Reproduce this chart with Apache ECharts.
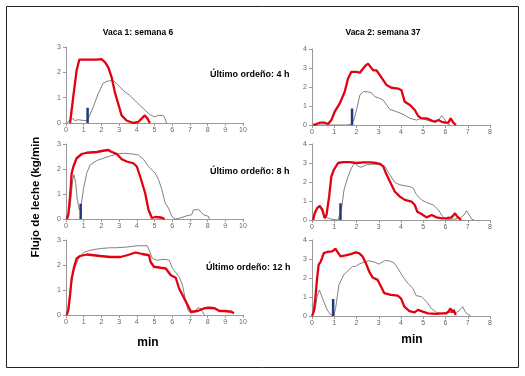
<!DOCTYPE html>
<html><head><meta charset="utf-8">
<script src="https://cdn.jsdelivr.net/npm/echarts@6/dist/echarts.min.js"></script>
<style>html,body{margin:0;padding:0;background:#fff}#c{width:525px;height:376px}</style>
</head><body><div id="c"></div>
<script>
const titles = ["Vaca 1: semana 6", "Vaca 2: semana 37"];
const rowLabels = ["Último ordeño: 4 h", "Último ordeño: 8 h", "Último ordeño: 12 h"];
const yLabel = "Flujo de leche (kg/min";
const xLabel = "min";
const leftXMax = 10, leftYMax = 3, rightXMax = 8, rightYMax = 4;

const redL1 = [[0.23,0],[0.41,1.03],[0.6,2.08],[0.75,2.5],[1.2,2.5],[1.73,2.5],[2.0,2.52],[2.2,2.4],[2.39,2.2],[2.58,1.8],[2.76,1.22],[2.95,0.76],[3.14,0.3],[3.42,0.1],[3.8,0],[4.08,0.04],[4.27,0.17],[4.45,0.3],[4.58,0.2],[4.74,0]];
const grayL1 = [[0.05,0],[0.32,0.2],[0.5,0.1],[0.7,0.13],[0.98,0.1],[1.17,0.1],[1.3,0.24],[1.54,0.63],[1.82,1.16],[2.1,1.58],[2.39,1.66],[2.67,1.68],[2.86,1.55],[3.23,1.29],[3.6,1.09],[3.98,0.83],[4.36,0.57],[4.74,0.33],[5.02,0.24],[5.2,0.3],[5.49,0.3],[5.58,0.2],[5.68,0]];
const blueL1 = [1.22, 0.6];

const redL2 = [[0.04,0],[0.13,0.17],[0.23,0.9],[0.32,1.83],[0.42,2.1],[0.6,2.43],[0.89,2.6],[1.17,2.65],[1.74,2.68],[2.1,2.73],[2.4,2.76],[2.45,2.8],[2.53,2.7],[2.87,2.6],[3.15,2.39],[3.43,2.3],[3.8,2.23],[4.0,2.1],[4.19,1.7],[4.47,1.04],[4.66,0.37],[4.85,0.04],[5.04,0.08],[5.23,0.07],[5.42,0.05],[5.57,0]];
const grayL2 = [[0.1,0],[0.23,0.5],[0.38,1.57],[0.45,1.77],[0.55,1.43],[0.64,0.77],[0.75,0.37],[0.85,0.5],[0.98,1.17],[1.17,1.83],[1.36,2.16],[1.74,2.34],[2.1,2.43],[2.5,2.52],[2.87,2.6],[3.25,2.63],[3.8,2.6],[4.09,2.56],[4.38,2.39],[4.66,2.1],[5.04,1.83],[5.23,1.57],[5.42,1.17],[5.6,0.64],[5.79,0.44],[5.98,0.1],[6.17,0],[6.45,0.04],[6.83,0.13],[7.1,0.17],[7.2,0.37],[7.3,0.44],[7.5,0.37],[7.77,0.17],[8.06,0.1],[8.1,0]];
const blueL2 = [0.83, 0.61];

const redL3 = [[0.04,0],[0.13,0.2],[0.23,0.8],[0.32,1.46],[0.46,1.93],[0.6,2.26],[0.8,2.36],[1.18,2.42],[1.56,2.39],[1.94,2.36],[2.5,2.32],[3.07,2.32],[3.45,2.39],[3.93,2.5],[4.31,2.44],[4.69,2.39],[4.78,2.12],[4.97,1.93],[5.35,1.89],[5.64,1.86],[5.92,1.59],[6.2,1.49],[6.39,1.06],[6.58,0.8],[6.87,0.4],[7.06,0.13],[7.44,0.16],[7.82,0.27],[8.1,0.29],[8.39,0.27],[8.67,0.16],[8.96,0.16],[9.34,0.13],[9.49,0.07]];
const grayL3 = [[0.08,0],[0.23,0.93],[0.42,1.73],[0.7,2.26],[0.99,2.5],[1.37,2.59],[1.94,2.66],[2.5,2.69],[2.6,2.63],[2.88,2.69],[3.45,2.72],[4.02,2.77],[4.59,2.77],[4.74,2.52],[4.88,2.26],[5.16,2.19],[5.54,2.23],[5.83,2.19],[6.02,1.86],[6.39,1.53],[6.58,1.2],[6.77,0.53],[6.91,0.16],[7.06,0.07],[7.29,0.13],[7.44,0.29],[7.59,0.27],[7.72,0.13],[7.82,0]];

const redR1 = [[0.05,0],[0.2,0.05],[0.35,0.12],[0.57,0.12],[0.72,0.05],[0.87,0.26],[1.02,0.7],[1.25,1.14],[1.47,1.75],[1.62,2.45],[1.77,2.8],[2.0,2.8],[2.15,2.75],[2.3,2.97],[2.42,3.14],[2.52,3.23],[2.63,3.06],[2.75,2.88],[2.9,2.88],[3.05,2.62],[3.2,2.36],[3.35,2.1],[3.57,1.96],[3.87,1.92],[4.02,1.83],[4.17,1.22],[4.4,1.05],[4.62,0.79],[4.77,0.47],[4.92,0.35],[5.15,0.35],[5.38,0.23],[5.53,0.17],[5.68,0.26],[5.83,0.17],[5.98,0.12],[6.13,0.12],[6.23,0.35],[6.35,0.12],[6.47,0]];
const grayR1 = [[0.05,0],[0.95,0],[1.55,0],[1.77,0.03],[1.88,0.26],[2.0,0.79],[2.15,1.57],[2.3,1.75],[2.48,1.75],[2.67,1.7],[2.82,1.49],[3.05,1.4],[3.2,1.31],[3.5,0.82],[3.8,0.7],[4.1,0.56],[4.4,0.35],[4.7,0.26],[4.92,0.35],[5.15,0.26],[5.45,0.17],[5.68,0.26],[5.83,0.49],[5.93,0.35],[6.05,0.09],[6.2,0]];
const blueR1 = [1.8, 0.87];

const redR2 = [[0.05,0],[0.12,0.35],[0.23,0.62],[0.35,0.74],[0.47,0.53],[0.57,0.09],[0.65,0.26],[0.77,1.23],[0.87,2.29],[0.98,2.64],[1.17,3.0],[1.4,3.05],[1.7,3.05],[2.0,3.0],[2.3,3.03],[2.6,3.03],[2.9,3.0],[3.05,2.96],[3.2,2.82],[3.32,2.47],[3.5,2.03],[3.72,1.5],[3.95,1.23],[4.17,1.06],[4.47,0.97],[4.62,0.79],[4.73,0.44],[4.92,0.32],[5.15,0.14],[5.38,0.26],[5.6,0.14],[5.83,0.09],[6.05,0.1],[6.28,0.14],[6.43,0.35],[6.53,0.18],[6.7,0]];
const grayR2 = [[0.05,0],[0.17,0.44],[0.27,0.67],[0.38,0.62],[0.5,0.35],[0.65,0.14],[0.87,0.04],[1.17,0],[1.25,0.09],[1.32,0.53],[1.44,1.59],[1.62,2.29],[1.77,2.73],[1.92,3.0],[2.07,2.82],[2.22,2.78],[2.45,2.91],[2.75,2.94],[3.05,2.91],[3.27,2.82],[3.5,2.38],[3.72,1.98],[3.95,1.85],[4.17,1.8],[4.4,1.76],[4.55,1.67],[4.7,1.32],[4.92,1.06],[5.15,0.92],[5.45,0.79],[5.68,0.53],[5.83,0.26],[5.98,0.04],[6.35,0.04],[6.65,0.09],[6.83,0.26],[6.95,0.49],[7.07,0.26],[7.18,0.04],[7.28,0]];
const blueR2 = [1.28, 0.88];

const redR3 = [[0,0],[0.08,0.23],[0.15,0.93],[0.23,1.99],[0.3,2.7],[0.38,2.84],[0.45,3.05],[0.53,3.31],[0.68,3.37],[0.91,3.4],[1.06,3.54],[1.13,3.4],[1.28,3.14],[1.51,3.19],[1.74,3.26],[1.96,3.35],[2.11,3.31],[2.27,3.14],[2.42,2.78],[2.57,2.34],[2.72,2.03],[2.95,1.9],[3.1,1.55],[3.25,1.2],[3.55,1.11],[3.85,1.07],[4.0,0.93],[4.15,0.49],[4.38,0.26],[4.61,0.19],[4.76,0.32],[4.98,0.23],[5.21,0.14],[5.59,0.11],[5.89,0.14],[6.04,0.14],[6.15,0.26],[6.22,0.4],[6.3,0.19],[6.37,0.32],[6.46,0.05]];
const grayR3 = [[0,0],[0.15,0.4],[0.23,1.02],[0.33,1.37],[0.41,1.29],[0.53,0.76],[0.68,0.32],[0.83,0.09],[0.98,0.02],[1.06,0.4],[1.21,1.64],[1.43,2.17],[1.66,2.43],[1.81,2.61],[1.96,2.61],[2.11,2.73],[2.34,2.84],[2.57,2.91],[2.8,2.84],[3.02,2.73],[3.25,2.91],[3.47,2.91],[3.7,2.78],[3.85,2.52],[4.08,2.08],[4.3,1.73],[4.53,1.46],[4.68,1.07],[4.91,1.02],[5.14,0.76],[5.36,0.4],[5.59,0.19],[5.82,0.14],[6.04,0.19],[6.27,0.19],[6.5,0.19],[6.65,0.32],[6.77,0.49],[6.87,0.26],[6.99,0.09],[7.13,0.02]];
const blueR3 = [0.95, 0.9];

const panels = [
  {red: redL1, gray: grayL1, blue: blueL1, col: 0},
  {red: redL2, gray: grayL2, blue: blueL2, col: 0},
  {red: redL3, gray: grayL3, blue: null, col: 0},
  {red: redR1, gray: grayR1, blue: blueR1, col: 1},
  {red: redR2, gray: grayR2, blue: blueR2, col: 1},
  {red: redR3, gray: grayR3, blue: blueR3, col: 1}
];
const gridPos = [
  {left: 66, top: 47, width: 177, height: 76},
  {left: 66, top: 144, width: 177, height: 75},
  {left: 66, top: 240, width: 177, height: 75},
  {left: 312, top: 49, width: 178, height: 76},
  {left: 312, top: 144, width: 178, height: 76},
  {left: 312, top: 240, width: 178, height: 76}
];

const grids = [], xAxes = [], yAxes = [], series = [];
const axisCol = '#9a9a9a', labCol = '#666';
panels.forEach((p, i) => {
  grids.push(Object.assign({containLabel: false}, gridPos[i]));
  const xm = p.col === 0 ? leftXMax : rightXMax;
  const ym = p.col === 0 ? leftYMax : rightYMax;
  xAxes.push({gridIndex: i, type: 'value', min: 0, max: xm, interval: 1,
    axisLine: {onZero: false, lineStyle: {color: axisCol, width: 1}},
    axisTick: {show: true, length: 3, lineStyle: {color: axisCol}},
    axisLabel: {fontSize: 7, color: labCol, margin: 4, fontFamily: 'Liberation Sans'},
    splitLine: {show: false}});
  yAxes.push({gridIndex: i, type: 'value', min: 0, max: ym, interval: 1,
    axisLine: {show: true, lineStyle: {color: axisCol, width: 1}},
    axisTick: {show: true, length: 3, lineStyle: {color: axisCol}},
    axisLabel: {fontSize: 7, color: labCol, margin: 5, fontFamily: 'Liberation Sans'},
    splitLine: {show: false}});
  series.push({type: 'line', xAxisIndex: i, yAxisIndex: i, data: p.gray, showSymbol: false, symbol: 'none',
    lineStyle: {color: '#808080', width: 1}, z: 2, animation: false});
  series.push({type: 'line', xAxisIndex: i, yAxisIndex: i, data: p.red, showSymbol: false, symbol: 'none',
    lineStyle: {color: '#e3000f', width: 2.3}, z: 3, animation: false});
  if (p.blue) {
    series.push({type: 'line', xAxisIndex: i, yAxisIndex: i, data: [[p.blue[0], 0], [p.blue[0], p.blue[1]]],
      showSymbol: false, symbol: 'none', lineStyle: {color: '#1f3d7a', width: 2.5, cap: 'butt'}, z: 4, animation: false});
  }
});

const boldFont = 'Liberation Sans';
const graphics = [
  {type: 'rect', shape: {x: 6.5, y: 6.5, width: 512, height: 361}, style: {fill: 'none', stroke: '#222', lineWidth: 1}, z: 0},
  {type: 'text', x: 138, y: 33, style: {text: titles[0], font: 'bold 8.5px ' + boldFont, fill: '#000', align: 'center', verticalAlign: 'middle'}},
  {type: 'text', x: 383, y: 33, style: {text: titles[1], font: 'bold 8.5px ' + boldFont, fill: '#000', align: 'center', verticalAlign: 'middle'}},
  {type: 'text', x: 210, y: 75, style: {text: rowLabels[0], font: 'bold 9px ' + boldFont, fill: '#000', align: 'left', verticalAlign: 'middle'}},
  {type: 'text', x: 210, y: 172, style: {text: rowLabels[1], font: 'bold 9px ' + boldFont, fill: '#000', align: 'left', verticalAlign: 'middle'}},
  {type: 'text', x: 206, y: 268, style: {text: rowLabels[2], font: 'bold 9px ' + boldFont, fill: '#000', align: 'left', verticalAlign: 'middle'}},
  {type: 'text', x: 148, y: 343, style: {text: xLabel, font: 'bold 12px ' + boldFont, fill: '#000', align: 'center', verticalAlign: 'middle'}},
  {type: 'text', x: 412, y: 340, style: {text: xLabel, font: 'bold 12px ' + boldFont, fill: '#000', align: 'center', verticalAlign: 'middle'}},
  {type: 'text', x: 36, y: 197, rotation: Math.PI / 2, style: {text: yLabel, font: 'bold 11.5px ' + boldFont, fill: '#000', align: 'center', verticalAlign: 'middle'}}
];

const chart = echarts.init(document.getElementById('c'), null, {renderer: 'canvas'});
chart.setOption({animation: false, backgroundColor: '#fff', grid: grids, xAxis: xAxes, yAxis: yAxes, series: series, graphic: graphics});
</script></body></html>
